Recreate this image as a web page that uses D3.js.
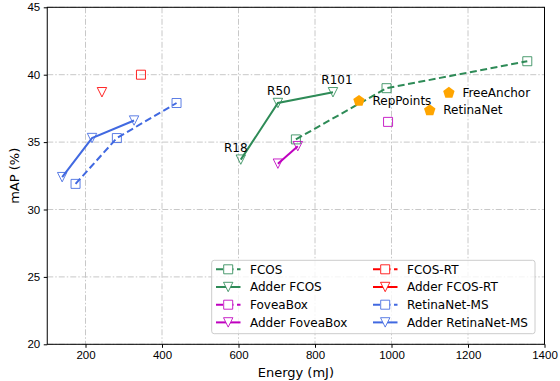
<!DOCTYPE html>
<html>
<head>
<meta charset="utf-8">
<script src="https://cdn.jsdelivr.net/npm/d3@7"></script>
<style>
  body { margin: 0; background: #fff; }
  svg { display: block; font-family: "DejaVu Sans", sans-serif; }
  .grid line { stroke: #c8c8c8; stroke-width: 1; stroke-dasharray: 6,2,1.5,2; }
  .axis path { display: none; }
  .axis line { stroke: #000; stroke-width: 1; }
  .axis text { font-size: 11.5px; fill: #000; }
</style>
</head>
<body>
<div id="graph"></div>
<script>
// values
var fcosE = [750, 987, 1355],        fcosMap = [35.2, 39.0, 41.0];
var adderFcosE = [606, 703, 847],    adderFcosMap = [33.7, 37.9, 38.7];
var foveaE = [991],                  foveaMap = [36.5];
var adderFoveaE = [703, 755],        adderFoveaMap = [33.4, 34.7];
var fcosRtE = [345],                 fcosRtMap = [40.0];
var adderFcosRtE = [243],            adderFcosRtMap = [38.7];
var retinaMsE = [174, 282, 438],     retinaMsMap = [31.9, 35.3, 37.9];
var adderRetinaMsE = [139, 217, 327], adderRetinaMsMap = [32.4, 35.3, 36.6];

var backbones = ["R18", "R50", "R101"];

var otherNames = ["RepPoints", "FreeAnchor", "RetinaNet"],
    otherE = [915, 1150, 1100],
    otherMap = [38.1, 38.7, 37.4];

var xTicks = [200, 400, 600, 800, 1000, 1200, 1400],
    yTicks = [20, 25, 30, 35, 40, 45];

function zip(xs, ys) { return xs.map(function(x, i) { return {e: x, map: ys[i]}; }); }

var series = [
  {name: "FCOS",               color: "#2e8b57", dashed: true,  marker: "square", values: zip(fcosE, fcosMap)},
  {name: "Adder FCOS",         color: "#2e8b57", dashed: false, marker: "tri",    values: zip(adderFcosE, adderFcosMap)},
  {name: "FoveaBox",           color: "#bf00bf", dashed: true,  marker: "square", values: zip(foveaE, foveaMap)},
  {name: "Adder FoveaBox",     color: "#bf00bf", dashed: false, marker: "tri",    values: zip(adderFoveaE, adderFoveaMap)},
  {name: "FCOS-RT",            color: "#ff0000", dashed: true,  marker: "square", values: zip(fcosRtE, fcosRtMap)},
  {name: "Adder FCOS-RT",      color: "#ff0000", dashed: false, marker: "tri",    values: zip(adderFcosRtE, adderFcosRtMap)},
  {name: "RetinaNet-MS",       color: "#4169e1", dashed: true,  marker: "square", values: zip(retinaMsE, retinaMsMap)},
  {name: "Adder RetinaNet-MS", color: "#4169e1", dashed: false, marker: "tri",    values: zip(adderRetinaMsE, adderRetinaMsMap)}
];

var svg = d3.select("#graph").append("svg")
    .attr("width", 560)
    .attr("height", 381);

var margin = {top: 7.3, right: 15.5, bottom: 36.7, left: 47.25},
    width = 560 - margin.left - margin.right,
    height = 381 - margin.top - margin.bottom,
    g = svg.append("g").attr("transform", "translate(" + margin.left + "," + margin.top + ")");

var x = d3.scaleLinear().domain([100, 1400]).range([0, width]),
    y = d3.scaleLinear().domain([20, 45]).range([height, 0]);

// grid
g.append("g").attr("class", "grid")
  .selectAll("line").data(xTicks).enter().append("line")
    .attr("x1", function(d) { return x(d); }).attr("x2", function(d) { return x(d); })
    .attr("y1", 0).attr("y2", height);
g.append("g").attr("class", "grid")
  .selectAll("line").data(yTicks).enter().append("line")
    .attr("y1", function(d) { return y(d); }).attr("y2", function(d) { return y(d); })
    .attr("x1", 0).attr("x2", width);

// axes
g.append("g")
    .attr("class", "axis")
    .attr("transform", "translate(0," + height + ")")
    .call(d3.axisBottom(x).tickValues(xTicks).tickFormat(d3.format("d")).tickSize(3.5).tickPadding(3.5))
    .selectAll("text").attr("dy", "0.71em");
g.append("g")
    .attr("class", "axis")
    .call(d3.axisLeft(y).tickValues(yTicks).tickFormat(d3.format("d")).tickSize(3.5).tickPadding(3.5));

g.append("rect")
    .attr("width", width).attr("height", height)
    .attr("fill", "none").attr("stroke", "#000").attr("stroke-width", 1);

svg.append("text")
    .attr("x", margin.left + width / 2).attr("y", 376.5)
    .attr("text-anchor", "middle")
    .style("font-size", "13px")
    .text("Energy (mJ)");
svg.append("text")
    .attr("transform", "translate(19," + (margin.top + height / 2) + ") rotate(-90)")
    .attr("text-anchor", "middle")
    .style("font-size", "13px")
    .text("mAP (%)");

// markers
function markerPath(type) {
  if (type === "square") return "M-4.5,-4.5H4.5V4.5H-4.5Z";
  return "M0,4.7L-4.7,-4.7H4.7Z";
}

var line = d3.line()
    .x(function(d) { return x(d.e); })
    .y(function(d) { return y(d.map); });

var s = g.selectAll(".series")
    .data(series)
    .enter().append("g")
    .attr("class", "series");

s.append("path")
    .attr("d", function(d) { return line(d.values); })
    .attr("fill", "none")
    .attr("stroke", function(d) { return d.color; })
    .attr("stroke-width", 2)
    .attr("stroke-dasharray", function(d) { return d.dashed ? "7,3.5" : null; });

s.selectAll(".mk")
    .data(function(d) { return d.values.map(function(v) { return {v: v, s: d}; }); })
    .enter().append("path")
    .attr("class", "mk")
    .attr("transform", function(d) { return "translate(" + x(d.v.e) + "," + y(d.v.map) + ")"; })
    .attr("d", function(d) { return markerPath(d.s.marker); })
    .attr("fill", "none")
    .attr("stroke", function(d) { return d.s.color; })
    .attr("stroke-opacity", 0.85)
    .attr("stroke-width", 1);

// backbone labels on Adder FCOS
var labelDx = [-5, 1, 4];
g.selectAll(".bb")
    .data(series[1].values)
    .enter().append("text")
    .attr("x", function(d, i) { return x(d.e) + labelDx[i]; })
    .attr("y", function(d) { return y(d.map) - 8; })
    .attr("text-anchor", "middle")
    .style("font-size", "12px")
    .text(function(d, i) { return backbones[i]; });

// other detectors
var others = otherNames.map(function(n, i) { return {name: n, e: otherE[i], map: otherMap[i]}; });
var pent = d3.range(5).map(function(k) {
  var a = -Math.PI / 2 + k * 2 * Math.PI / 5;
  return [6 * Math.cos(a), 6 * Math.sin(a) + 0.6];
});
var o = g.selectAll(".other").data(others).enter().append("g")
    .attr("transform", function(d) { return "translate(" + x(d.e) + "," + y(d.map) + ")"; });
o.append("path")
    .attr("d", "M" + pent.join("L") + "Z")
    .attr("fill", "#ffa500");
o.append("text")
    .attr("x", 13.5).attr("y", 4.3)
    .style("font-size", "12px")
    .text(function(d) { return d.name; });

// legend
var leg = svg.append("g").attr("transform", "translate(211.7,260.3)");
leg.append("rect")
    .attr("width", 323.3).attr("height", 73.4)
    .attr("rx", 2.5)
    .attr("fill", "#fff").attr("fill-opacity", 0.8)
    .attr("stroke", "#cccccc").attr("stroke-width", 1);

var item = leg.selectAll(".item").data(series).enter().append("g")
    .attr("transform", function(d, i) {
      var col = Math.floor(i / 4), row = i % 4;
      return "translate(" + (col === 0 ? 4.3 : 161.3) + "," + (9 + row * 17.7) + ")";
    });
item.append("line")
    .attr("x1", 0).attr("x2", 24.5)
    .attr("stroke", function(d) { return d.color; })
    .attr("stroke-width", 2)
    .attr("stroke-dasharray", function(d) { return d.dashed ? "7,3.5" : null; });
item.append("path")
    .attr("transform", "translate(12.2,0)")
    .attr("d", function(d) { return markerPath(d.marker); })
    .attr("fill", "#fff")
    .attr("stroke", function(d) { return d.color; })
    .attr("stroke-opacity", 0.85)
    .attr("stroke-width", 1);
item.append("text")
    .attr("x", 34).attr("y", 4.3)
    .style("font-size", "12px")
    .text(function(d) { return d.name; });
</script>
</body>
</html>
